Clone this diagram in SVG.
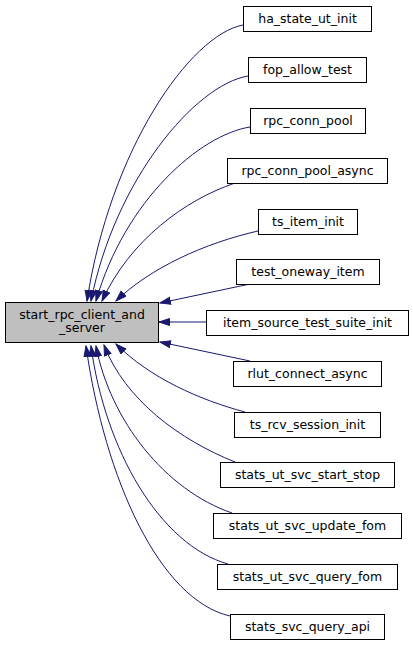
<svg xmlns="http://www.w3.org/2000/svg" width="413" height="645" viewBox="0 0 413 645">
<style>
.n rect{fill:#fff;stroke:#000;stroke-width:1}
.n text{font-family:"DejaVu Sans",sans-serif;font-size:12.5px;text-anchor:middle;fill:#000}
.e path{fill:none;stroke:#191970;stroke-width:1;marker-end:url(#ah)}
</style>
<defs>
<marker id="ah" markerUnits="userSpaceOnUse" markerWidth="12" markerHeight="9" refX="11" refY="4" orient="auto" viewBox="0 0 12 9">
<path d="M0.5,0.5 L11,4 L0.5,7.5 z" fill="#191970" stroke="#191970" stroke-width="1"/>
</marker>
</defs>
<rect width="413" height="645" fill="#fff"/>
<g id="edges" class="e">
<path d="M243,25 C190,35 110,150 87,301"/>
<path d="M248,76 C195,85 115,180 91,301"/>
<path d="M250,127 C200,135 125,200 96,301"/>
<path d="M235,183 C185,200 130,240 102,301"/>
<path d="M258,231 C205,243 150,268 116,301"/>
<path d="M250,284 L160,303"/>
<path d="M206,322 L159,322"/>
<path d="M250,361 L160,342"/>
<path d="M245,412 C200,400 150,378 116,344"/>
<path d="M235,462 C180,440 125,400 104,345"/>
<path d="M232,513 C165,490 110,420 96,346"/>
<path d="M228,564 C160,545 105,450 91,346"/>
<path d="M230,616 C160,600 105,480 86,346"/>
</g>
<g id="main" class="n">
<rect x="5.5" y="302.5" width="153" height="40" style="fill:#bfbfbf"/>
<text x="82" y="318.5">start_rpc_client_and</text>
<text x="82" y="332">_server</text>
</g>
<g id="n1" class="n"><rect x="243.5" y="6.5" width="128" height="25"/><text x="307.5" y="22.5">ha_state_ut_init</text></g>
<g id="n2" class="n"><rect x="248.5" y="57.5" width="118" height="25"/><text x="307.5" y="73.5">fop_allow_test</text></g>
<g id="n3" class="n"><rect x="250.5" y="108.5" width="115" height="25"/><text x="308" y="124.5">rpc_conn_pool</text></g>
<g id="n4" class="n"><rect x="227.5" y="158.5" width="160" height="25"/><text x="307.5" y="174.5">rpc_conn_pool_async</text></g>
<g id="n5" class="n"><rect x="258.5" y="209.5" width="99" height="25"/><text x="308" y="225.5">ts_item_init</text></g>
<g id="n6" class="n"><rect x="236.5" y="259.5" width="143" height="25"/><text x="308" y="275.5">test_oneway_item</text></g>
<g id="n7" class="n"><rect x="206.5" y="310.5" width="202" height="25"/><text x="307.5" y="326.5">item_source_test_suite_init</text></g>
<g id="n8" class="n"><rect x="233.5" y="361.5" width="148" height="25"/><text x="307.5" y="377.5">rlut_connect_async</text></g>
<g id="n9" class="n"><rect x="234.5" y="412.5" width="146" height="25"/><text x="307.5" y="428.5">ts_rcv_session_init</text></g>
<g id="n10" class="n"><rect x="220.5" y="462.5" width="174" height="25"/><text x="307.5" y="478.5">stats_ut_svc_start_stop</text></g>
<g id="n11" class="n"><rect x="213.5" y="513.5" width="188" height="25"/><text x="307.5" y="529.5">stats_ut_svc_update_fom</text></g>
<g id="n12" class="n"><rect x="217.5" y="564.5" width="180" height="25"/><text x="307.5" y="580.5">stats_ut_svc_query_fom</text></g>
<g id="n13" class="n"><rect x="230.5" y="614.5" width="154" height="25"/><text x="307.5" y="630.5">stats_svc_query_api</text></g>
</svg>
